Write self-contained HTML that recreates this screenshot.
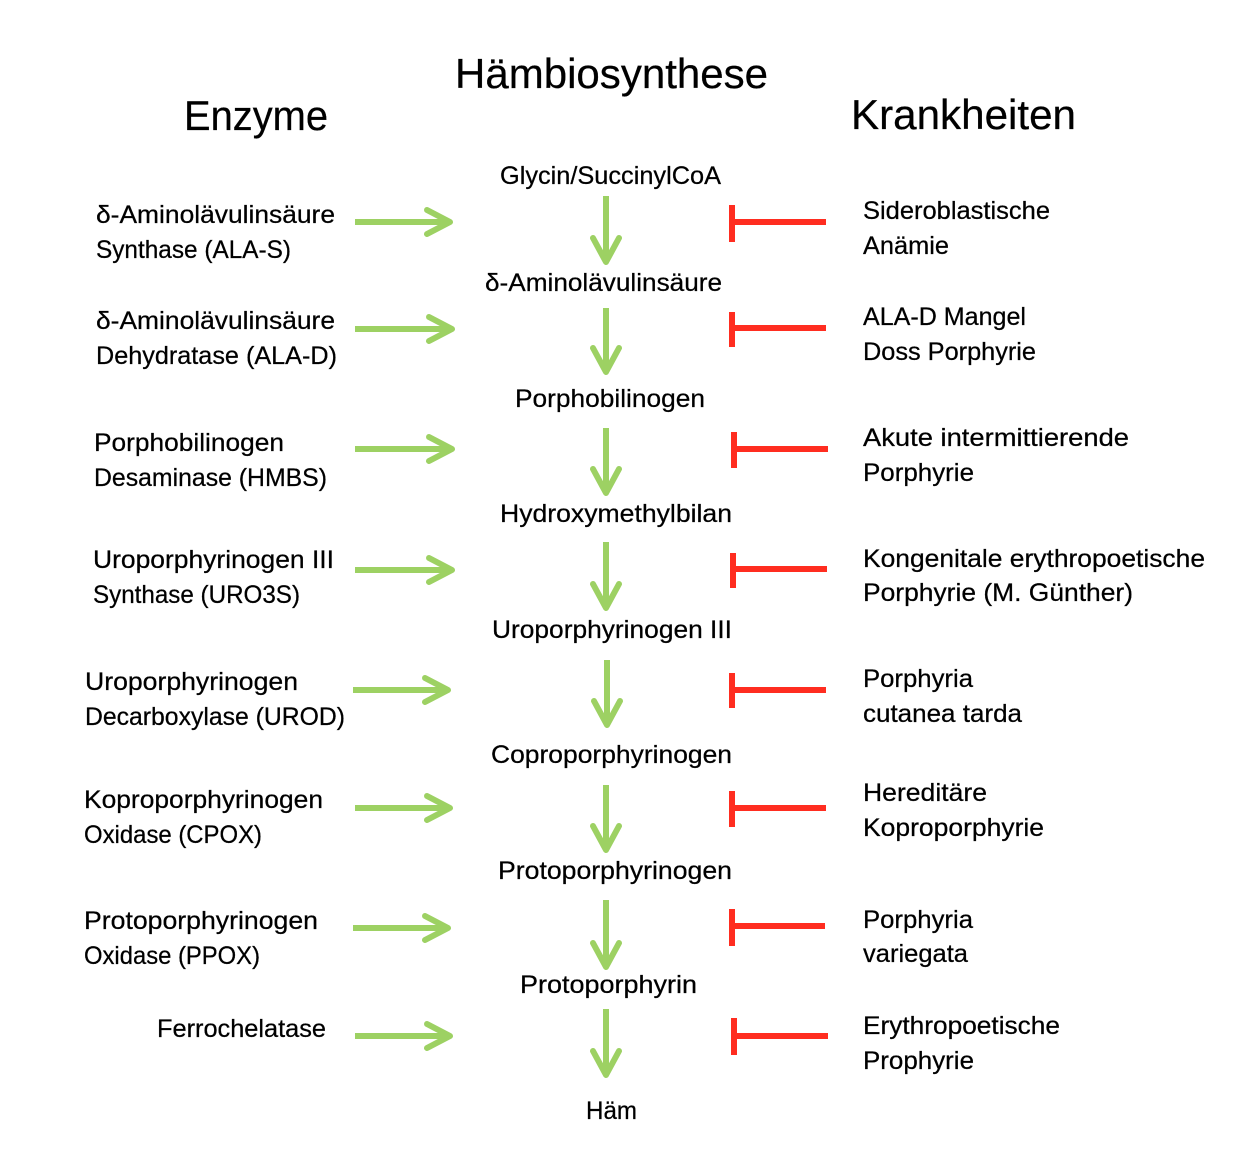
<!DOCTYPE html>
<html><head><meta charset="utf-8"><style>
html,body{margin:0;padding:0;background:#fff;}
svg{display:block;}
text{font-family:"Liberation Sans",Arial,sans-serif;fill:#000;stroke:#000;stroke-width:0.25px;}
.t{font-size:42px;}
.b{font-size:25px;}
.g{stroke:#9DD163;stroke-width:6;fill:none;stroke-linecap:round;stroke-linejoin:round;}
.gs{stroke:#9DD163;stroke-width:6;fill:none;stroke-linecap:butt;}
.r{stroke:#FF2D20;stroke-width:6;fill:none;}
</style></head><body>
<svg width="1260" height="1161" viewBox="0 0 1260 1161" xmlns="http://www.w3.org/2000/svg">
<rect width="1260" height="1161" fill="#fff"/>
<!-- titles -->
<text class="t" x="455" y="88" textLength="313" lengthAdjust="spacingAndGlyphs">Hämbiosynthese</text>
<text class="t" x="184" y="130" textLength="144" lengthAdjust="spacingAndGlyphs">Enzyme</text>
<text class="t" x="851" y="129" textLength="225" lengthAdjust="spacingAndGlyphs">Krankheiten</text>

<!-- center -->
<text class="b" x="500" y="184" textLength="221" lengthAdjust="spacingAndGlyphs">Glycin/SuccinylCoA</text>
<text class="b" x="485" y="291" textLength="237" lengthAdjust="spacingAndGlyphs">δ-Aminolävulinsäure</text>
<text class="b" x="515" y="407" textLength="190" lengthAdjust="spacingAndGlyphs">Porphobilinogen</text>
<text class="b" x="500" y="522" textLength="232" lengthAdjust="spacingAndGlyphs">Hydroxymethylbilan</text>
<text class="b" x="492" y="638" textLength="240" lengthAdjust="spacingAndGlyphs">Uroporphyrinogen III</text>
<text class="b" x="491" y="763" textLength="241" lengthAdjust="spacingAndGlyphs">Coproporphyrinogen</text>
<text class="b" x="498" y="879" textLength="234" lengthAdjust="spacingAndGlyphs">Protoporphyrinogen</text>
<text class="b" x="520" y="993" textLength="177" lengthAdjust="spacingAndGlyphs">Protoporphyrin</text>
<text class="b" x="586" y="1119" textLength="51" lengthAdjust="spacingAndGlyphs">Häm</text>

<!-- left -->
<text class="b" x="96" y="223" textLength="239" lengthAdjust="spacingAndGlyphs">δ-Aminolävulinsäure</text>
<text class="b" x="96" y="258" textLength="195" lengthAdjust="spacingAndGlyphs">Synthase (ALA-S)</text>
<text class="b" x="96" y="329" textLength="239" lengthAdjust="spacingAndGlyphs">δ-Aminolävulinsäure</text>
<text class="b" x="96" y="364" textLength="241" lengthAdjust="spacingAndGlyphs">Dehydratase (ALA-D)</text>
<text class="b" x="94" y="451" textLength="190" lengthAdjust="spacingAndGlyphs">Porphobilinogen</text>
<text class="b" x="94" y="486" textLength="233" lengthAdjust="spacingAndGlyphs">Desaminase (HMBS)</text>
<text class="b" x="93" y="568" textLength="241" lengthAdjust="spacingAndGlyphs">Uroporphyrinogen III</text>
<text class="b" x="93" y="603" textLength="207" lengthAdjust="spacingAndGlyphs">Synthase (URO3S)</text>
<text class="b" x="85" y="690" textLength="213" lengthAdjust="spacingAndGlyphs">Uroporphyrinogen</text>
<text class="b" x="85" y="725" textLength="260" lengthAdjust="spacingAndGlyphs">Decarboxylase (UROD)</text>
<text class="b" x="84" y="808" textLength="239" lengthAdjust="spacingAndGlyphs">Koproporphyrinogen</text>
<text class="b" x="84" y="843" textLength="178" lengthAdjust="spacingAndGlyphs">Oxidase (CPOX)</text>
<text class="b" x="84" y="929" textLength="234" lengthAdjust="spacingAndGlyphs">Protoporphyrinogen</text>
<text class="b" x="84" y="964" textLength="176" lengthAdjust="spacingAndGlyphs">Oxidase (PPOX)</text>
<text class="b" x="157" y="1037" textLength="169" lengthAdjust="spacingAndGlyphs">Ferrochelatase</text>

<!-- right -->
<text class="b" x="863" y="219" textLength="187" lengthAdjust="spacingAndGlyphs">Sideroblastische</text>
<text class="b" x="863" y="254" textLength="86" lengthAdjust="spacingAndGlyphs">Anämie</text>
<text class="b" x="863" y="325" textLength="163" lengthAdjust="spacingAndGlyphs">ALA-D Mangel</text>
<text class="b" x="863" y="360" textLength="173" lengthAdjust="spacingAndGlyphs">Doss Porphyrie</text>
<text class="b" x="863" y="446" textLength="266" lengthAdjust="spacingAndGlyphs">Akute intermittierende</text>
<text class="b" x="863" y="481" textLength="111" lengthAdjust="spacingAndGlyphs">Porphyrie</text>
<text class="b" x="863" y="567" textLength="342" lengthAdjust="spacingAndGlyphs">Kongenitale erythropoetische</text>
<text class="b" x="863" y="601" textLength="270" lengthAdjust="spacingAndGlyphs">Porphyrie (M. Günther)</text>
<text class="b" x="863" y="687" textLength="110" lengthAdjust="spacingAndGlyphs">Porphyria</text>
<text class="b" x="863" y="722" textLength="159" lengthAdjust="spacingAndGlyphs">cutanea tarda</text>
<text class="b" x="863" y="801" textLength="124" lengthAdjust="spacingAndGlyphs">Hereditäre</text>
<text class="b" x="863" y="836" textLength="181" lengthAdjust="spacingAndGlyphs">Koproporphyrie</text>
<text class="b" x="863" y="928" textLength="110" lengthAdjust="spacingAndGlyphs">Porphyria</text>
<text class="b" x="863" y="962" textLength="105" lengthAdjust="spacingAndGlyphs">variegata</text>
<text class="b" x="863" y="1034" textLength="197" lengthAdjust="spacingAndGlyphs">Erythropoetische</text>
<text class="b" x="863" y="1069" textLength="111" lengthAdjust="spacingAndGlyphs">Prophyrie</text>

<!-- green horizontal arrows: shafts -->
<g class="gs">
<path d="M355 222 H447"/>
<path d="M355 329 H449"/>
<path d="M355 449 H449"/>
<path d="M355 570 H449"/>
<path d="M353 690 H445"/>
<path d="M355 808 H447"/>
<path d="M353 928 H445"/>
<path d="M355 1036 H447"/>
</g>
<!-- green horizontal arrows: heads -->
<g class="g">
<path d="M427 210 L450 222 L427 234"/>
<path d="M429 317 L452 329 L429 341"/>
<path d="M429 437 L452 449 L429 461"/>
<path d="M429 558 L452 570 L429 582"/>
<path d="M425 678 L448 690 L425 702"/>
<path d="M427 796 L450 808 L427 820"/>
<path d="M425 916 L448 928 L425 940"/>
<path d="M427 1024 L450 1036 L427 1048"/>
</g>

<!-- green down arrows: shafts -->
<g class="gs">
<path d="M606 196 V259"/>
<path d="M606 308 V369"/>
<path d="M606 428 V490"/>
<path d="M606 542 V605"/>
<path d="M607 660 V722"/>
<path d="M606 785 V847"/>
<path d="M606 900 V964"/>
<path d="M606 1009 V1072"/>
</g>
<!-- green down arrows: heads -->
<g class="g">
<path d="M593 238 L606 262 L619 238"/>
<path d="M593 348 L606 372 L619 348"/>
<path d="M593 469 L606 493 L619 469"/>
<path d="M593 584 L606 608 L619 584"/>
<path d="M594 701 L607 725 L620 701"/>
<path d="M593 826 L606 850 L619 826"/>
<path d="M593 943 L606 967 L619 943"/>
<path d="M593 1051 L606 1075 L619 1051"/>
</g>

<!-- red inhibitors -->
<g class="r">
<path d="M732 205 V242 M732 222 H826"/>
<path d="M732 312 V347 M732 328 H826"/>
<path d="M734 432 V468 M734 449 H828"/>
<path d="M733 553 V588 M733 569 H827"/>
<path d="M732 673 V708 M732 690 H826"/>
<path d="M732 791 V827 M732 808 H826"/>
<path d="M732 909 V946 M732 926 H825"/>
<path d="M734 1018 V1055 M734 1036 H828"/>
</g>
</svg>
</body></html>
